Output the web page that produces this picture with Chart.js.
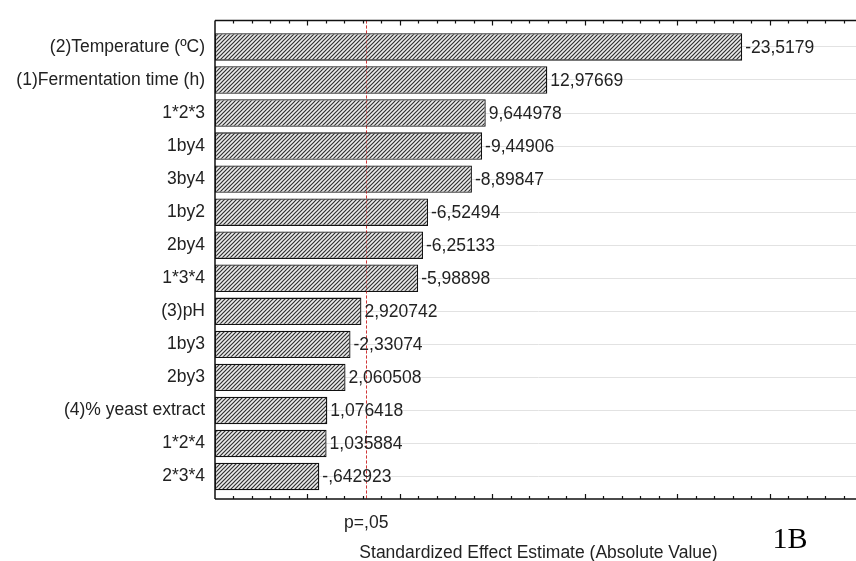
<!DOCTYPE html>
<html>
<head>
<meta charset="utf-8">
<script src="https://cdn.jsdelivr.net/npm/chart.js@4/dist/chart.umd.min.js"></script>
<style>
  html, body { margin: 0; padding: 0; background: #fff; overflow: hidden; }
  #wrap { width: 870px; height: 561px; position: relative; }
</style>
</head>
<body>
<div id="wrap"><canvas id="pareto"></canvas></div>
<script>
// Pareto chart of standardized effects (Statistica style).
const factors = [
  "(2)Temperature (ºC)", "(1)Fermentation time (h)", "1*2*3", "1by4", "3by4",
  "1by2", "2by4", "1*3*4", "(3)pH", "1by3", "2by3",
  "(4)% yeast extract", "1*2*4", "2*3*4"
];
const effects = [
  -23.5179, 12.97669, 9.644978, -9.44906, -8.89847,
  -6.52494, -6.25133, -5.98898, 2.920742, -2.33074, 2.060508,
  1.076418, 1.035884, -0.642923
];
const xMin = -5;
const xMax = 30;
const pCrit = 3.182;          // t critical value, p = .05
const pLabel = "p=,05";
const axisTitle = "Standardized Effect Estimate (Absolute Value)";
const panelTag = "1B";

const FONT = '"Liberation Sans", Arial, sans-serif';

// Statistica writes decimals with a comma and no leading zero.
function fmt(v) {
  return String(v).replace(".", ",").replace(/^(-?)0,/, "$1,");
}

// Diagonal hatch fill for the bars.
function hatch() {
  const c = document.createElement("canvas");
  c.width = 4; c.height = 4;
  const g = c.getContext("2d");
  g.fillStyle = "#ececec";
  g.fillRect(0, 0, 4, 4);
  g.strokeStyle = "#303030";
  g.lineWidth = 1.2;
  g.beginPath();
  g.moveTo(0, 4); g.lineTo(4, 0);
  g.moveTo(-1, 1); g.lineTo(1, -1);
  g.moveTo(3, 5); g.lineTo(5, 3);
  g.stroke();
  return g.createPattern(c, "repeat");
}

function pLine(ctx, a, px, color) {
  ctx.strokeStyle = color;
  ctx.lineWidth = 1;
  ctx.setLineDash([3, 2]);
  ctx.beginPath();
  ctx.moveTo(px, a.top); ctx.lineTo(px, a.bottom);
  ctx.stroke();
  ctx.setLineDash([]);
}

// Frame, inward ticks, p-line, value labels and the panel tag.
const decorations = {
  id: "decorations",
  beforeDatasetsDraw(chart) {
    const { ctx, chartArea: a, scales: { x } } = chart;
    ctx.save();
    pLine(ctx, a, Math.round(x.getPixelForValue(pCrit)) + 0.5, "rgba(205,40,40,0.85)");
    ctx.restore();
  },
  afterDatasetsDraw(chart) {
    const { ctx, chartArea: a, scales: { x } } = chart;
    ctx.save();
    // p-line shows faintly through the bars
    pLine(ctx, a, Math.round(x.getPixelForValue(pCrit)) + 0.5, "rgba(205,40,40,0.55)");

    // frame: top, bottom, left
    ctx.strokeStyle = "#111";
    ctx.lineWidth = 1.5;
    ctx.beginPath();
    ctx.moveTo(a.left, a.top); ctx.lineTo(a.right, a.top);
    ctx.moveTo(a.left, a.bottom); ctx.lineTo(a.right, a.bottom);
    ctx.moveTo(a.left, a.top); ctx.lineTo(a.left, a.bottom);
    ctx.stroke();

    // inward tick marks every unit, longer every 5
    ctx.lineWidth = 1.2;
    ctx.beginPath();
    for (let v = xMin + 1; v <= xMax; v++) {
      const tx = Math.round(x.getPixelForValue(v)) + 0.5;
      const len = v % 5 === 0 ? 5 : 3;
      ctx.moveTo(tx, a.top); ctx.lineTo(tx, a.top + len);
      ctx.moveTo(tx, a.bottom); ctx.lineTo(tx, a.bottom - len);
    }
    ctx.stroke();

    // value labels at the end of each bar
    const meta = chart.getDatasetMeta(0);
    ctx.fillStyle = "#222";
    ctx.font = "17.5px " + FONT;
    ctx.textAlign = "left";
    ctx.textBaseline = "middle";
    meta.data.forEach((bar, i) => {
      ctx.fillText(fmt(effects[i]), bar.x + 3, bar.y + 1);
    });

    // panel tag
    ctx.fillStyle = "#000";
    ctx.font = '30px "Liberation Serif", "Times New Roman", serif';
    ctx.textAlign = "center";
    ctx.fillText(panelTag, 790, 540);
    ctx.restore();
  }
};

new Chart(document.getElementById("pareto"), {
  type: "bar",
  data: {
    datasets: [{
      data: effects.map((v, i) => ({ x: Math.abs(v), y: i })),
      base: xMin,
      backgroundColor: hatch(),
      borderColor: "#111",
      borderWidth: 1.3,
      borderSkipped: false,
      barPercentage: 0.83,
      categoryPercentage: 1
    }]
  },
  options: {
    indexAxis: "y",
    responsive: true,
    maintainAspectRatio: false,
    animation: false,
    layout: { padding: { top: 17, right: 8, left: 0, bottom: 0 } },
    plugins: { legend: { display: false }, tooltip: { enabled: false } },
    scales: {
      x: {
        type: "linear",
        min: xMin,
        max: xMax,
        grid: { display: false, drawTicks: false },
        border: { display: false },
        afterBuildTicks: (s) => { s.ticks = [{ value: pCrit }]; },
        afterFit: (s) => { s.height = 62; },
        ticks: {
          padding: 14,
          color: "#222",
          font: { family: FONT, size: 17.5 },
          callback: () => pLabel
        },
        title: {
          display: true,
          text: axisTitle,
          color: "#222",
          font: { family: FONT, size: 17.5 },
          padding: { top: 0, bottom: -3 }
        }
      },
      y: {
        type: "linear",
        reverse: true,
        offset: false,
        min: -0.8,
        max: factors.length - 0.32,
        grid: { color: "#e2e2e2", lineWidth: 1, drawTicks: false, offset: false },
        border: { display: false },
        afterBuildTicks: (s) => { s.ticks = factors.map((_, i) => ({ value: i })); },
        afterFit: (s) => { s.width = 215; },
        ticks: {
          padding: 10,
          color: "#222",
          font: { family: FONT, size: 17.5 },
          callback: (v) => factors[v]
        }
      }
    }
  },
  plugins: [decorations]
});
</script>
</body>
</html>
